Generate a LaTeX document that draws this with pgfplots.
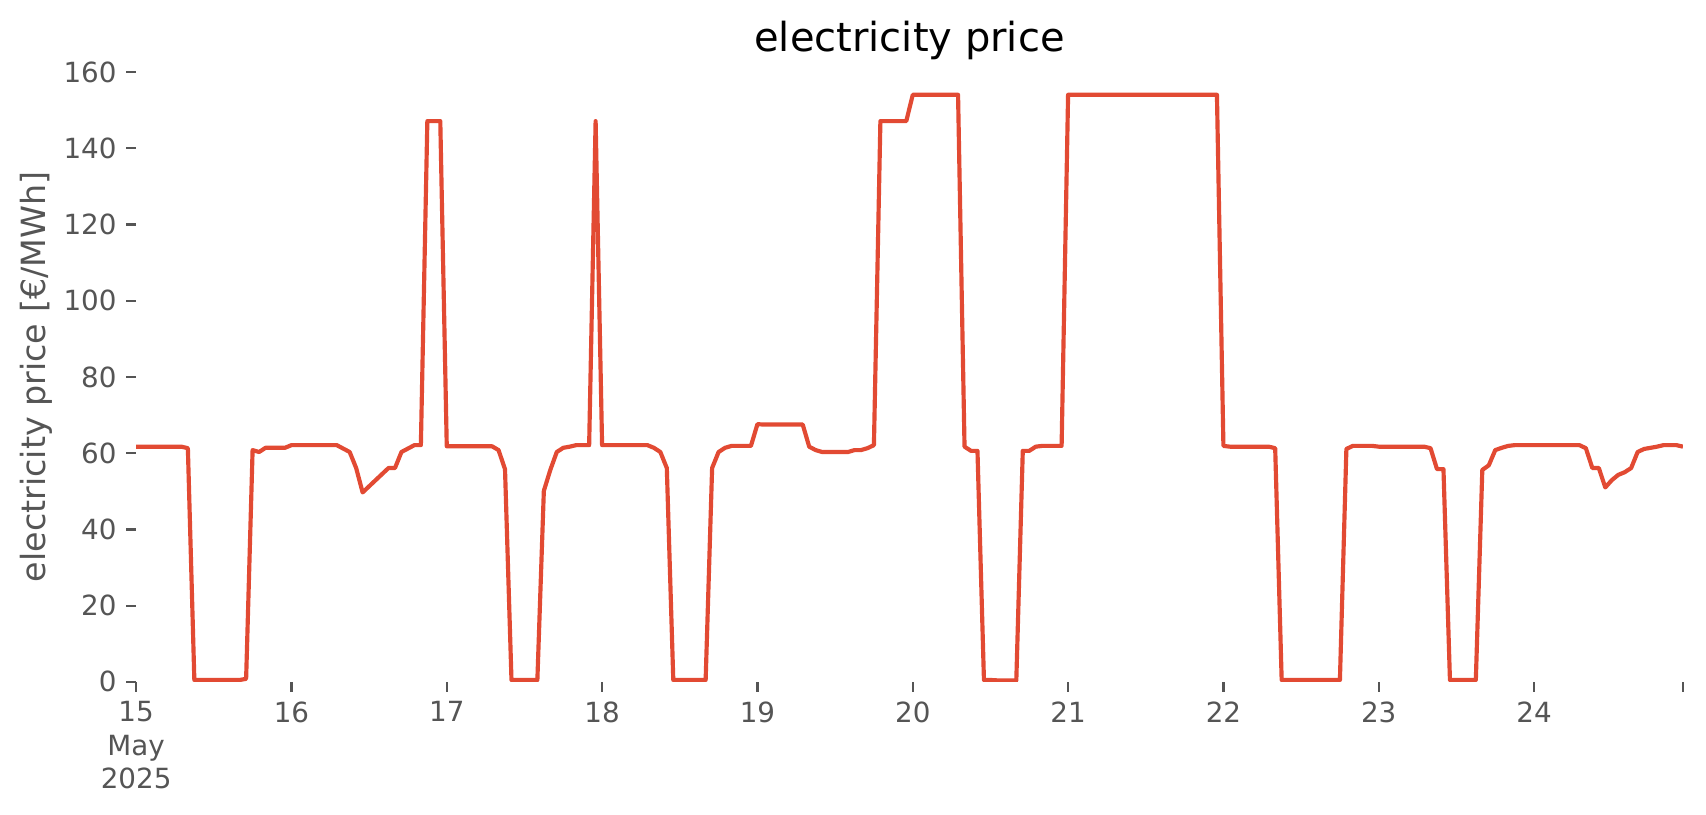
\documentclass[border=0pt]{standalone}
\usepackage{pgfplots}
\pgfplotsset{compat=1.18}
\usepackage{fontspec}
\setmainfont{DejaVu Sans}
\definecolor{ggred}{HTML}{E24A33}
\definecolor{ggtext}{HTML}{555555}

\begin{document}
\begin{tikzpicture}
\begin{axis}[
  name=main,
  scale only axis,
  width=556.9pt, height=219.6pt,
  xmin=0, xmax=239, ymin=0, ymax=160,
  axis x line*=bottom, axis y line*=left,
  axis line style={draw=none},
  tick align=outside,
  major tick length=3.5pt,
  tick style={draw=ggtext, line width=0.8pt},
  ticklabel style={font=\fontsize{10}{12}\selectfont, text=ggtext},
  /pgf/number format/assume math mode=true,
  xtick={0,24,...,216,239},
  xticklabels={{15\\May\\2025},16,17,18,19,20,21,22,23,24,},
  xticklabel style={align=center, anchor=north},
  ytick={0,20,...,160},
  title={electricity price},
  title style={font=\fontsize{14.4}{17}\selectfont, at={(0.5,1)}, anchor=base, yshift=1.5pt},
  ylabel={electricity price [€/MWh]},
  ylabel style={font=\fontsize{12}{14}\selectfont, text=ggtext,
    at={(axis description cs:0,0.5)}, anchor=center, yshift=36pt},
]
% hourly prices, x = hours since 15 May 2025 00:00
\addplot[ggred, line width=1.5pt, line join=round] coordinates {
(0,61.7) (1,61.7) (2,61.7) (3,61.7) (4,61.7) (5,61.7) (6,61.7) (7,61.7) (8,61.3) (9,0.5) (10,0.5) (11,0.5) (12,0.5) (13,0.5) (14,0.5) (15,0.5) (16,0.5) (17,0.8) (18,60.8) (19,60.3) (20,61.4) (21,61.4) (22,61.4) (23,61.4)
(24,62.1) (25,62.1) (26,62.1) (27,62.1) (28,62.1) (29,62.1) (30,62.1) (31,62.1) (32,61.2) (33,60.3) (34,56.1) (35,49.7) (36,51.3) (37,52.9) (38,54.5) (39,56.1) (40,56.1) (41,60.3) (42,61.2) (43,62.1) (44,62.1) (45,147.1) (46,147.1) (47,147.1)
(48,61.8) (49,61.8) (50,61.8) (51,61.8) (52,61.8) (53,61.8) (54,61.8) (55,61.8) (56,60.8) (57,55.8) (58,0.5) (59,0.5) (60,0.5) (61,0.5) (62,0.5) (63,50.1) (64,55.6) (65,60.3) (66,61.4) (67,61.7) (68,62.1) (69,62.1) (70,62.1) (71,147.1)
(72,62.1) (73,62.1) (74,62.1) (75,62.1) (76,62.1) (77,62.1) (78,62.1) (79,62.1) (80,61.4) (81,60.3) (82,56.1) (83,0.5) (84,0.5) (85,0.5) (86,0.5) (87,0.5) (88,0.5) (89,56.1) (90,60.3) (91,61.4) (92,61.9) (93,61.9) (94,61.9) (95,61.9)
(96,67.6) (97,67.5) (98,67.5) (99,67.5) (100,67.5) (101,67.5) (102,67.5) (103,67.5) (104,61.7) (105,60.8) (106,60.3) (107,60.3) (108,60.3) (109,60.3) (110,60.3) (111,60.8) (112,60.8) (113,61.3) (114,62.1) (115,147.1) (116,147.1) (117,147.1) (118,147.1) (119,147.1)
(120,154.0) (121,154.0) (122,154.0) (123,154.0) (124,154.0) (125,154.0) (126,154.0) (127,154.0) (128,61.7) (129,60.6) (130,60.6) (131,0.5) (132,0.5) (133,0.4) (134,0.4) (135,0.4) (136,0.4) (137,60.6) (138,60.6) (139,61.7) (140,61.9) (141,61.9) (142,61.9) (143,61.9)
(144,154.0) (145,154.0) (146,154.0) (147,154.0) (148,154.0) (149,154.0) (150,154.0) (151,154.0) (152,154.0) (153,154.0) (154,154.0) (155,154.0) (156,154.0) (157,154.0) (158,154.0) (159,154.0) (160,154.0) (161,154.0) (162,154.0) (163,154.0) (164,154.0) (165,154.0) (166,154.0) (167,154.0)
(168,61.9) (169,61.7) (170,61.7) (171,61.7) (172,61.7) (173,61.7) (174,61.7) (175,61.7) (176,61.3) (177,0.5) (178,0.5) (179,0.5) (180,0.5) (181,0.5) (182,0.5) (183,0.5) (184,0.5) (185,0.5) (186,0.5) (187,61.1) (188,61.9) (189,61.9) (190,61.9) (191,61.9)
(192,61.7) (193,61.7) (194,61.7) (195,61.7) (196,61.7) (197,61.7) (198,61.7) (199,61.7) (200,61.3) (201,55.8) (202,55.8) (203,0.5) (204,0.5) (205,0.5) (206,0.5) (207,0.5) (208,55.6) (209,56.8) (210,60.8) (211,61.4) (212,61.9) (213,62.1) (214,62.1) (215,62.1)
(216,62.1) (217,62.1) (218,62.1) (219,62.1) (220,62.1) (221,62.1) (222,62.1) (223,62.1) (224,61.3) (225,56.1) (226,56.1) (227,51.0) (228,52.9) (229,54.3) (230,55.0) (231,56.1) (232,60.3) (233,61.1) (234,61.4) (235,61.7) (236,62.1) (237,62.1) (238,62.1) (239,61.7)
};
\end{axis}
\pgfresetboundingbox
\path (main.south west) ++(-49pt,-47.9pt) rectangle ++(614.2pt,293.4pt);
\end{tikzpicture}
\end{document}
